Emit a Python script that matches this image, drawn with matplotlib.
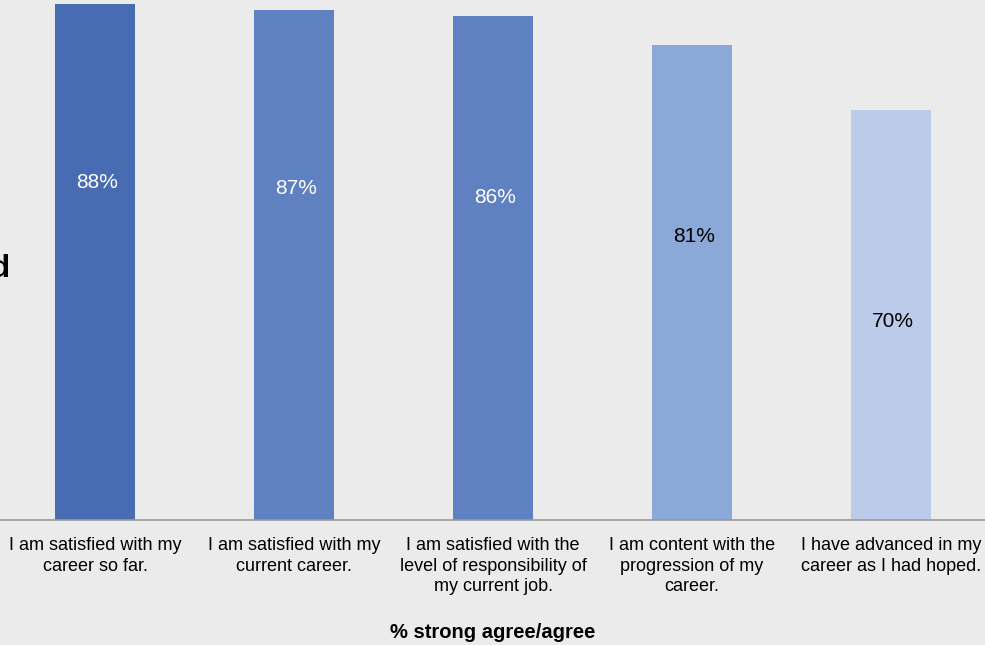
import matplotlib.pyplot as plt

plt.rcParams['font.family'] = ['Liberation Sans', 'DejaVu Sans']

statements = [
    "I am satisfied with my\ncareer so far.",
    "I am satisfied with my\ncurrent career.",
    "I am satisfied with the\nlevel of responsibility of\nmy current job.",
    "I am content with the\nprogression of my\ncareer.",
    "I have advanced in my\ncareer as I had hoped.",
]
agree_pct = [88, 87, 86, 81, 70]
label_y = [57.6, 56.5, 55.1, 48.3, 33.8]
bar_colors = ["#476cb2", "#5f81c1", "#5f81c1", "#8aa9d8", "#bccbe9"]
text_colors = ["white", "white", "white", "black", "black"]

bg = "#ebebeb"
fig = plt.figure(figsize=(9.85, 6.45), dpi=100, facecolor=bg)
ax = fig.add_axes([0, 125 / 645, 1, 520 / 645], facecolor=bg)

x = list(range(len(agree_pct)))
ax.bar(x, agree_pct, width=0.4, color=bar_colors)
for i, v in enumerate(agree_pct):
    ax.text(i + 0.01, label_y[i], "%d%%" % v, ha='center', va='center',
            fontsize=15, color=text_colors[i])

ax.set_xlim(-95 / 199, 890 / 199)
ax.set_ylim(0, 520 / 5.86)
ax.set_xticks(x)
ax.set_xticklabels(statements, fontsize=13, linespacing=1.3)
ax.tick_params(axis='x', length=0, pad=12)
ax.set_yticks([])
for side in ['top', 'right', 'left']:
    ax.spines[side].set_visible(False)
ax.spines['bottom'].set_color('#999999')
ax.spines['bottom'].set_linewidth(1.2)

fig.text(0.5, 13 / 645, "% strong agree/agree", ha='center', va='center',
         fontsize=14.5, fontweight='bold')
# left-hand caption runs off the edge of the canvas
fig.text(10 / 985, 1 - 277 / 645, "Satisfied", ha='right', va='baseline',
         fontsize=23, fontweight='bold')

fig.savefig("out.png", dpi=100, facecolor=bg)
